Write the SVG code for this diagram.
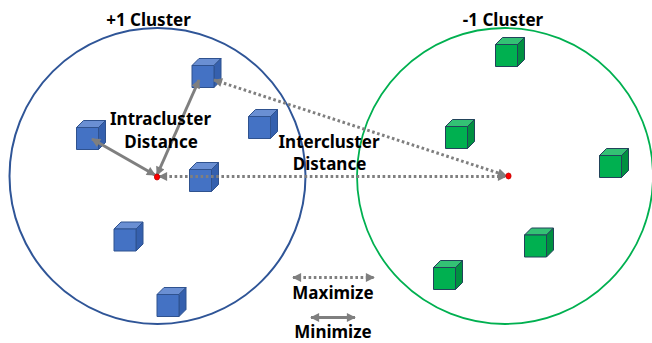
<svg xmlns="http://www.w3.org/2000/svg" xmlns:xlink="http://www.w3.org/1999/xlink" width="652" height="343" viewBox="0 0 652 343">
  <style>
    .lbl { font-family: "Noto Sans", "Open Sans", "DejaVu Sans", sans-serif; font-weight: bold; font-size: 17px; fill: #000; text-anchor: middle; }
    .solid { stroke: #7F7F7F; stroke-width: 3; fill: none; }
    .dotted { stroke: #7F7F7F; stroke-width: 3; stroke-dasharray: 2.6 2.6; fill: none; }
    .center { fill: #FF0000; stroke: #C00000; stroke-width: 0.8; }
  </style>
  <defs>
    <marker id="ah" viewBox="0 0 10 10" refX="9" refY="5" markerWidth="10" markerHeight="9" markerUnits="userSpaceOnUse" orient="auto-start-reverse">
      <path d="M0,0 L10,5 L0,10 Z" fill="#7F7F7F"/>
    </marker>
    <g id="cubeBlue" stroke="#2F528F" stroke-width="1" stroke-linejoin="round">
      <path d="M0,0 L7,-7 L29,-7 L22,0 Z" fill="#6A8FD3"/>
      <path d="M22,0 L29,-7 L29,15 L22,22 Z" fill="#3560AE"/>
      <rect x="0" y="0" width="22" height="22" fill="#4472C4"/>
    </g>
    <g id="cubeGreen" stroke="#22435A" stroke-width="1" stroke-linejoin="round">
      <path d="M0,0 L7,-7 L29,-7 L22,0 Z" fill="#33C174"/>
      <path d="M22,0 L29,-7 L29,15 L22,22 Z" fill="#009040"/>
      <rect x="0" y="0" width="22" height="22" fill="#00B050"/>
    </g>
  </defs>

  <!-- cluster boundaries -->
  <g id="cluster-pos">
    <circle cx="157.5" cy="176" r="148" fill="none" stroke="#2F5597" stroke-width="2"/>
    <text class="lbl" x="148.5" y="25.5">+1 Cluster</text>
  </g>
  <g id="cluster-neg">
    <circle cx="505" cy="176" r="148" fill="none" stroke="#00B050" stroke-width="1.8"/>
    <text class="lbl" x="503" y="25.5">-1 Cluster</text>
  </g>

  <!-- +1 cluster points -->
  <g id="p1"><use xlink:href="#cubeBlue" x="192" y="65.5"/></g>
  <g id="p2"><use xlink:href="#cubeBlue" x="76.5" y="127.5"/></g>
  <g id="p3"><use xlink:href="#cubeBlue" x="248.5" y="116.5"/></g>
  <g id="p4"><use xlink:href="#cubeBlue" x="189.5" y="169.5"/></g>
  <g id="p5"><use xlink:href="#cubeBlue" x="114" y="229"/></g>
  <g id="p6"><use xlink:href="#cubeBlue" x="157" y="294.5"/></g>

  <!-- -1 cluster points -->
  <g id="n1"><use xlink:href="#cubeGreen" x="495.5" y="44.5"/></g>
  <g id="n2"><use xlink:href="#cubeGreen" x="445.5" y="126.5"/></g>
  <g id="n3"><use xlink:href="#cubeGreen" x="599.5" y="155.5"/></g>
  <g id="n4"><use xlink:href="#cubeGreen" x="524.5" y="235"/></g>
  <g id="n5"><use xlink:href="#cubeGreen" x="433.5" y="267.5"/></g>

  <!-- distance connectors -->
  <g id="connectors">
    <line class="dotted" x1="159" y1="176.5" x2="506" y2="176.5" marker-start="url(#ah)" marker-end="url(#ah)"/>
    <line class="dotted" x1="214" y1="80" x2="506" y2="175.5" marker-start="url(#ah)" marker-end="url(#ah)"/>
    <line class="solid" x1="155" y1="175" x2="92" y2="139" marker-start="url(#ah)" marker-end="url(#ah)"/>
    <line class="solid" x1="157" y1="175" x2="199" y2="80" marker-start="url(#ah)" marker-end="url(#ah)"/>
  </g>

  <!-- cluster centres -->
  <g id="centre-pos"><ellipse class="center" cx="157" cy="177" rx="2.6" ry="3"/></g>
  <g id="centre-neg"><ellipse class="center" cx="508.5" cy="176" rx="2.6" ry="3"/></g>

  <!-- distance labels -->
  <g id="label-intra">
    <text class="lbl" x="160.5" y="125">Intracluster</text>
    <text class="lbl" x="161" y="147.5">Distance</text>
  </g>
  <g id="label-inter">
    <text class="lbl" x="329" y="148">Intercluster</text>
    <text class="lbl" x="329.5" y="170">Distance</text>
  </g>

  <!-- legend -->
  <g id="legend-max">
    <line class="dotted" x1="293" y1="277.5" x2="374" y2="277.5" marker-start="url(#ah)" marker-end="url(#ah)"/>
    <text class="lbl" x="333" y="299">Maximize</text>
  </g>
  <g id="legend-min">
    <line class="solid" x1="311" y1="317.5" x2="355" y2="317.5" marker-start="url(#ah)" marker-end="url(#ah)"/>
    <text class="lbl" x="333" y="338">Minimize</text>
  </g>
</svg>
